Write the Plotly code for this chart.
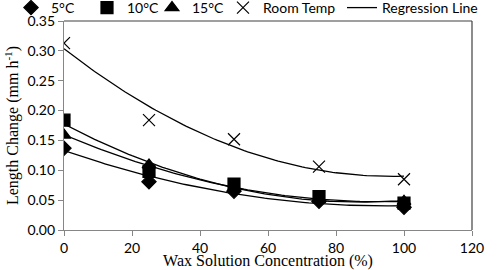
import numpy as np
import plotly.graph_objects as go

conc = [0, 25, 50, 75, 100]
t5 = [0.137, 0.081, 0.065, 0.048, 0.038]
t10 = [0.184, 0.098, 0.077, 0.056, 0.045]
t15 = [0.159, 0.109, 0.070, 0.052, 0.048]
room = [0.313, 0.184, 0.152, 0.106, 0.085]

series = [
    ("5°C", t5, "diamond", 11, "legend2"),
    ("10°C", t10, "square", 12, "legend3"),
    ("15°C", t15, "triangle-up", 12, "legend4"),
    ("Room Temp", room, "x-thin-open", 12, "legend5"),
]

fig = go.Figure()
for name, vals, sym, sz, lg in series:
    fig.add_trace(go.Scatter(
        x=conc, y=vals, mode="markers", name=name, legend=lg,
        marker=dict(symbol=sym, size=sz, color="black",
                    line=dict(color="black", width=1.2)),
    ))

xs = np.linspace(0, 100, 101)
for i, (name, vals, sym, sz, lg) in enumerate(series):
    c = np.polyfit(conc, vals, 2)
    fig.add_trace(go.Scatter(
        x=xs, y=np.polyval(c, xs), mode="lines",
        name="Regression Line", showlegend=(i == 0), legend="legend6",
        line=dict(color="black", width=1.3),
    ))

L, R, T, B = 64, 28, 21, 40
W, H = 500, 270

def lg(px, anchor="left"):
    return dict(orientation="h", xref="container", yref="container",
                x=px / W, xanchor=anchor,
                y=1 - 8 / H, yanchor="middle",
                font=dict(family="Lato", size=14), bgcolor="rgba(0,0,0,0)")

fig.update_layout(
    width=W, height=H, showlegend=True,
    margin=dict(l=L, r=R, t=T, b=B, autoexpand=False),
    plot_bgcolor="white", paper_bgcolor="white",
    font=dict(family="Lato", size=14, color="black"),
    legend2=lg(80, "right"), legend3=lg(87), legend4=lg(152), legend5=lg(223), legend6=lg(342),
    shapes=[
        dict(type="line", xref="paper", yref="paper", x0=0, x1=1, y0=1, y1=1,
             line=dict(color="#404040", width=1.2)),
        dict(type="line", xref="paper", yref="paper", x0=1, x1=1, y0=0, y1=1,
             line=dict(color="#404040", width=1.2)),
    ],
)
fig.update_xaxes(
    range=[0, 120], tickvals=[0, 20, 40, 60, 80, 100, 120],
    showgrid=False, zeroline=False, showline=True, linecolor="#868686", linewidth=1.2,
    ticks="outside", ticklen=5, tickcolor="#868686",
    title=dict(text="Wax Solution Concentration (%)", standoff=0,
               font=dict(family="Liberation Serif", size=16)),
)
fig.update_yaxes(
    range=[0, 0.35], tickvals=[0, 0.05, 0.1, 0.15, 0.2, 0.25, 0.3, 0.35], tickformat=".2f",
    showgrid=False, zeroline=False, showline=True, linecolor="#868686", linewidth=1.2,
    ticks="outside", ticklen=5, tickcolor="#868686",
    title=dict(text="Length Change (mm h<sup>-1</sup>)", standoff=4,
               font=dict(family="Liberation Serif", size=16)),
)
fig.write_html("out.html", config={"displayModeBar": False},
               post_script="document.body.style.margin='0';")
